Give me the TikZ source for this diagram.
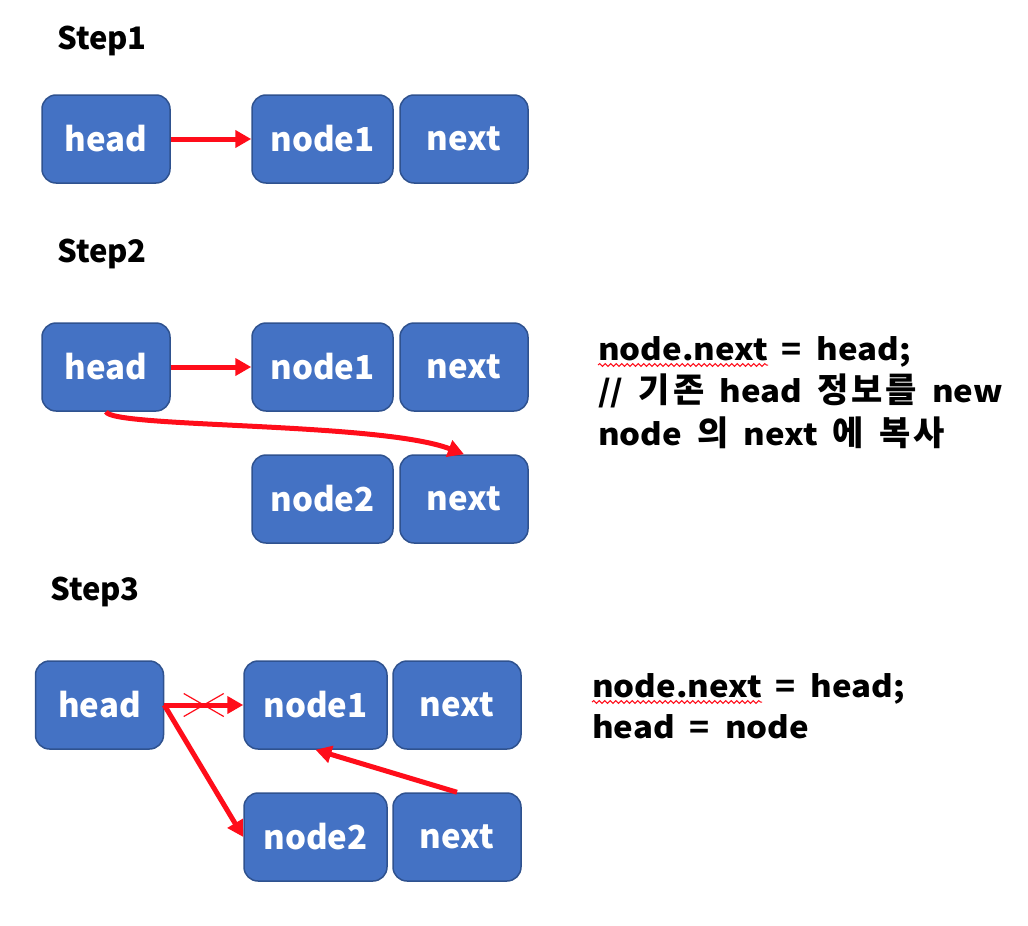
\documentclass[tikz,border=0pt]{standalone}
\usepackage{fontspec}
\setmainfont{Noto Sans CJK KR}
% slightly widened Latin with wide word spaces for the code lines, plain face for Hangul
\newfontfamily\codefont{Noto Sans CJK KR}[FakeStretch=1.1, WordSpace=2]
\newfontfamily\hangulfont{Noto Sans CJK KR}
\newcommand\hg[1]{{\hangulfont\fontsize{34}{42}\selectfont\bfseries#1}}
\newcommand\sk{\kern3pt}
\usetikzlibrary{arrows.meta,decorations.pathmorphing,calc}
\definecolor{boxblue}{HTML}{4472C4}
\definecolor{boxedge}{HTML}{2F528F}
\definecolor{ptr}{HTML}{FF0D1A}

\begin{document}
\begin{tikzpicture}[x=1pt,y=-1pt,
  cell/.style={draw=boxedge, line width=1.5pt, fill=boxblue, rounded corners=14pt,
    text=white, font=\fontsize{33}{40}\selectfont\bfseries,
    minimum height=88pt, inner sep=0pt},
  headcell/.style={cell, minimum width=128pt},
  datacell/.style={cell, minimum width=141pt},
  nextcell/.style={cell, minimum width=128pt},
  steplabel/.style={anchor=west, inner sep=0pt, font=\fontsize{31}{36}\selectfont\bfseries},
  codeline/.style={anchor=base west, inner sep=0pt,
    font=\codefont\fontsize{30}{42}\selectfont\bfseries},
  ptrarrow/.style={draw=ptr, line width=5pt, -{Triangle[length=16pt,width=17pt]}},
  squiggle/.style={draw=ptr, line width=1pt,
    decorate, decoration={snake, amplitude=1.4pt, segment length=5.5pt}},
]
\useasboundingbox (0,0) rectangle (1028,926);

% ---------- Step 1 ----------
\node[steplabel] (s1) at (57,41) {Step1};
\node[headcell] (h1)  at (106,139)   {head};
\node[datacell] (n1)  at (322.5,139) {node1};
\node[nextcell] (x1)  at (464,139)   {next};
\draw[ptrarrow] (h1.east) -- (n1.west);

% ---------- Step 2 ----------
\node[steplabel] (s2) at (57,254) {Step2};
\node[headcell] (h2)  at (106,367)   {head};
\node[datacell] (n21) at (322.5,367) {node1};
\node[nextcell] (x21) at (464,367)   {next};
\node[datacell] (n22) at (322.5,499) {node2};
\node[nextcell] (x22) at (464,499)   {next};
\draw[ptrarrow] (h2.east) -- (n21.west);
\draw[ptrarrow] (h2.south) .. controls (112,428) and (380,422) .. (x22.north);

\node[codeline] (c1a) at (598,360) {node.next};
\node[codeline] (c1b) at (c1a.base east) {\kern13pt = head;};
\node[codeline] (c2)  at (598,402) {// \hg{기\sk 존} head \hg{정\sk 보\sk 를} new};
\node[codeline] (c3)  at (598,445) {node \hg{의} next \hg{에} \hg{복\sk 사}};
\draw[squiggle] ($(c1a.base west)+(0,5)$) -- ($(c1a.base east)+(0,5)$);

% ---------- Step 3 ----------
\node[steplabel] (s3) at (50,592) {Step3};
\node[headcell] (h3)  at (99.5,705)  {head};
\node[datacell, minimum width=143pt] (n31) at (315.5,705) {node1};
\node[nextcell] (x31) at (457,705)   {next};
\node[datacell, minimum width=143pt] (n32) at (315.5,837) {node2};
\node[nextcell] (x32) at (457,837)   {next};
\draw[ptrarrow] (h3.east) -- (n31.west);
\coordinate (cut) at ($(h3.east)!0.5!(n31.west)$);
\draw[ptr, line width=1.2pt] ($(cut)+(-20,-11.5)$) -- ($(cut)+(20,11.5)$)
                             ($(cut)+(-20,11.5)$) -- ($(cut)+(20,-11.5)$);
\draw[ptrarrow] (h3.east) -- (n32.west);
\draw[ptrarrow] (x32.north) -- (n31.south);

\node[codeline] (d1a) at (592,697) {node.next};
\node[codeline] (d1b) at (d1a.base east) {\kern13pt = head;};
\node[codeline] (d2)  at (592,738) {head = node};
\draw[squiggle] ($(d1a.base west)+(0,5)$) -- ($(d1a.base east)+(0,5)$);
\end{tikzpicture}
\end{document}
